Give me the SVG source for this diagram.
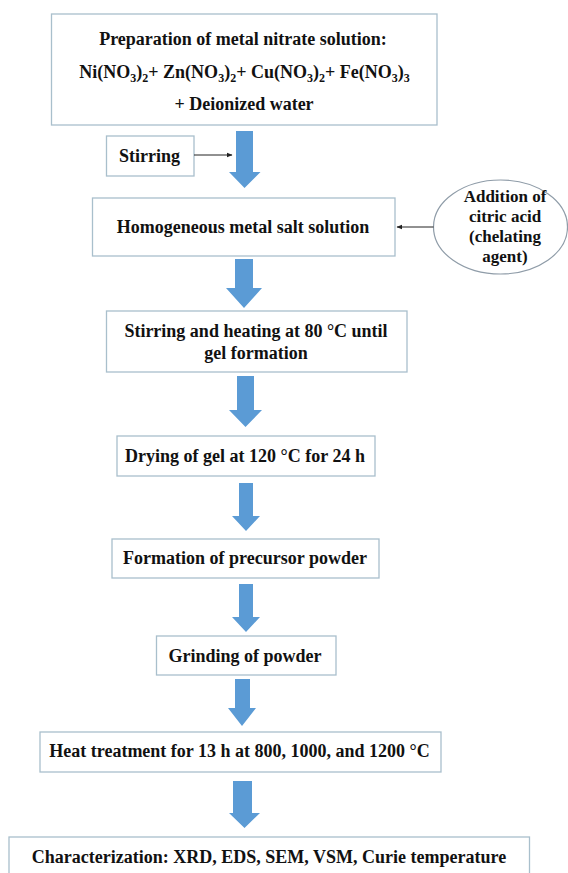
<svg xmlns="http://www.w3.org/2000/svg" width="568" height="873" viewBox="0 0 568 873">
<style>
.box{fill:#fff;stroke:#a9bfcc;stroke-width:1.3}
.ell{fill:#fff;stroke:#8f9ca8;stroke-width:1.2}
.t{font-family:"Liberation Serif","Times New Roman",serif;font-weight:bold;font-size:18px;fill:#111;text-anchor:middle}
.s{font-size:12px}
.blue{fill:#5b9bd5}
.thin{stroke:#222;stroke-width:1;fill:none}
</style>
<defs>
<marker id="ah" markerWidth="6" markerHeight="6" refX="5" refY="3" orient="auto" markerUnits="userSpaceOnUse">
<path d="M0,0.8 L5.5,3 L0,5.2 Z" fill="#222"/>
</marker>
</defs>
<rect width="568" height="873" fill="#fff"/>

<g id="n1">
<rect class="box" x="51.5" y="14" width="385.5" height="111"/>
<text class="t" x="243" y="45">Preparation of metal nitrate solution:</text>
<text class="t" x="244.5" y="78">Ni(NO<tspan class="s" dy="4">3</tspan><tspan dy="-4">)</tspan><tspan class="s" dy="4">2</tspan><tspan dy="-4">+ Zn(NO</tspan><tspan class="s" dy="4">3</tspan><tspan dy="-4">)</tspan><tspan class="s" dy="4">2</tspan><tspan dy="-4">+ Cu(NO</tspan><tspan class="s" dy="4">3</tspan><tspan dy="-4">)</tspan><tspan class="s" dy="4">2</tspan><tspan dy="-4">+ Fe(NO</tspan><tspan class="s" dy="4">3</tspan><tspan dy="-4">)</tspan><tspan class="s" dy="4">3</tspan></text>
<text class="t" x="244" y="110">+ Deionized water</text>
</g>

<g id="stirring">
<rect class="box" x="106.5" y="136" width="87.5" height="40"/>
<text class="t" x="149.5" y="162">Stirring</text>
</g>

<g id="n2">
<rect class="box" x="92.5" y="198" width="302.5" height="58"/>
<text class="t" x="243" y="233">Homogeneous metal salt solution</text>
</g>

<g id="citric">
<ellipse class="ell" cx="500.5" cy="227" rx="67" ry="47"/>
<text class="t" style="font-size:17px" x="505" y="202">Addition of</text>
<text class="t" style="font-size:17px" x="505" y="222">citric acid</text>
<text class="t" style="font-size:17px" x="505" y="242">(chelating</text>
<text class="t" style="font-size:17px" x="505" y="262">agent)</text>
</g>

<g id="n3">
<rect class="box" x="106.5" y="311" width="300.5" height="61"/>
<text class="t" x="256" y="337">Stirring and heating at 80 °C until</text>
<text class="t" x="256" y="359">gel formation</text>
</g>

<g id="n4">
<rect class="box" x="117" y="436" width="258" height="40"/>
<text class="t" x="245" y="462">Drying of gel at 120 °C for 24 h</text>
</g>

<g id="n5">
<rect class="box" x="112" y="539" width="267" height="39"/>
<text class="t" x="245" y="564">Formation of precursor powder</text>
</g>

<g id="n6">
<rect class="box" x="156.5" y="636" width="179.5" height="39"/>
<text class="t" x="245" y="662">Grinding of powder</text>
</g>

<g id="n7">
<rect class="box" x="40" y="732" width="401" height="40"/>
<text class="t" x="239.5" y="757">Heat treatment for 13 h at 800, 1000, and 1200 °C</text>
</g>

<g id="n8">
<rect class="box" x="9" y="837" width="520.5" height="50"/>
<text class="t" x="269" y="863">Characterization: XRD, EDS, SEM, VSM, Curie temperature</text>
</g>

<g id="connectors">
<line class="thin" x1="194" y1="155" x2="232" y2="155" marker-end="url(#ah)"/>
<line class="thin" x1="433.5" y1="227" x2="397" y2="227" marker-end="url(#ah)"/>
<polygon class="blue" points="236,131 253,131 253,172 260.5,172 244.5,188 229,172 236,172"/>
<polygon class="blue" points="235,259 253,259 253,288 262,288 244,308 226,288 235,288"/>
<polygon class="blue" points="237,376 254,376 254,410 262,410 245.5,427 229,410 237,410"/>
<polygon class="blue" points="239,483 253,483 253,516 260,516 246,531 232,516 239,516"/>
<polygon class="blue" points="239,584 253,584 253,617 260,617 246,632 232,617 239,617"/>
<polygon class="blue" points="235,679 250,679 250,708 256,708 242,726 228,708 235,708"/>
<polygon class="blue" points="233,781 252,781 252,813 260,813 244.5,828 229,813 233,813"/>
</g>
</svg>
